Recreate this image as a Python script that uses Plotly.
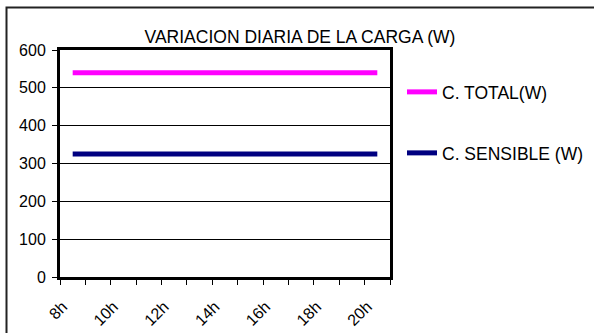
import plotly.graph_objects as go

hours = ["8h", "9h", "10h", "11h", "12h", "13h", "14h", "15h", "16h", "17h", "18h", "19h", "20h"]
total_w = [540, 540, 540, 540, 540, 540, 540, 540, 540, 540, 540, 540, 540]
sensible_w = [325, 325, 325, 325, 325, 325, 325, 325, 325, 325, 325, 325, 325]
y_ticks = [0, 100, 200, 300, 400, 500, 600]
title_text = "VARIACION DIARIA DE LA CARGA (W)"

FONT = "Liberation Sans, Arial, sans-serif"

fig = go.Figure()
fig.add_trace(go.Scatter(x=hours, y=total_w, mode="lines", name="C. TOTAL(W)",
                         line=dict(color="#FF00FF", width=5), legend="legend"))
fig.add_trace(go.Scatter(x=hours, y=sensible_w, mode="lines", name="C. SENSIBLE (W)",
                         line=dict(color="#000080", width=5), legend="legend2"))

ticktext = [h if i % 2 == 0 else "" for i, h in enumerate(hours)]

W, H = 594, 333
L, R, T, B = 60, 390, 50, 277

def px(x):
    return (x - L) / (R - L)

def py(y):
    return (B - y) / (B - T)

fig.update_layout(
    width=W, height=H,
    margin=dict(l=L, r=W - R, t=T, b=H - B, autoexpand=False),
    paper_bgcolor="white", plot_bgcolor="white",
    font=dict(family=FONT, color="black", size=15),
    title=dict(text=title_text, x=300 / W, xref="container", xanchor="center",
               y=1 - 37 / H, yref="container", yanchor="middle",
               font=dict(family=FONT, size=17.5, color="black")),
    xaxis=dict(type="category", categoryorder="array", categoryarray=hours,
               range=[-0.5, 12.5], tickvals=hours, ticktext=ticktext,
               tickson="boundaries", ticks="outside", ticklen=5, tickwidth=1,
               tickcolor="black", tickangle=-45, showgrid=False,
               ticklabelstandoff=11, ticklabelshift=-10,
               showline=True, linecolor="black", linewidth=3, mirror=True,
               tickfont=dict(family=FONT, size=16, color="black"), zeroline=False),
    yaxis=dict(range=[0, 600], tickvals=y_ticks, ticks="outside", ticklen=5,
               tickwidth=1, tickcolor="black", showgrid=True, gridcolor="black",
               gridwidth=1, showline=True, linecolor="black", linewidth=3,
               mirror=True, zeroline=False, ticklabelstandoff=3,
               tickfont=dict(family=FONT, size=16, color="black")),
    legend=dict(x=px(402), y=py(92), xanchor="left", yanchor="middle",
                bgcolor="rgba(0,0,0,0)", font=dict(family=FONT, size=17.5, color="black"),
                itemwidth=30),
    legend2=dict(x=px(402), y=py(153), xanchor="left", yanchor="middle",
                 bgcolor="rgba(0,0,0,0)", font=dict(family=FONT, size=17.5, color="black"),
                 itemwidth=30),
    showlegend=True,
)

# outer chart frame (cropped at right and bottom)
fig.add_shape(type="rect", xref="paper", yref="paper",
              x0=px(6.5), x1=px(620), y0=py(7.5), y1=py(360),
              line=dict(color="#222222", width=2), fillcolor="rgba(0,0,0,0)", layer="below")

fig.write_html("out.html", config={"displayModeBar": False},
               post_script="document.body.style.margin='0';document.body.style.overflow='hidden';")
